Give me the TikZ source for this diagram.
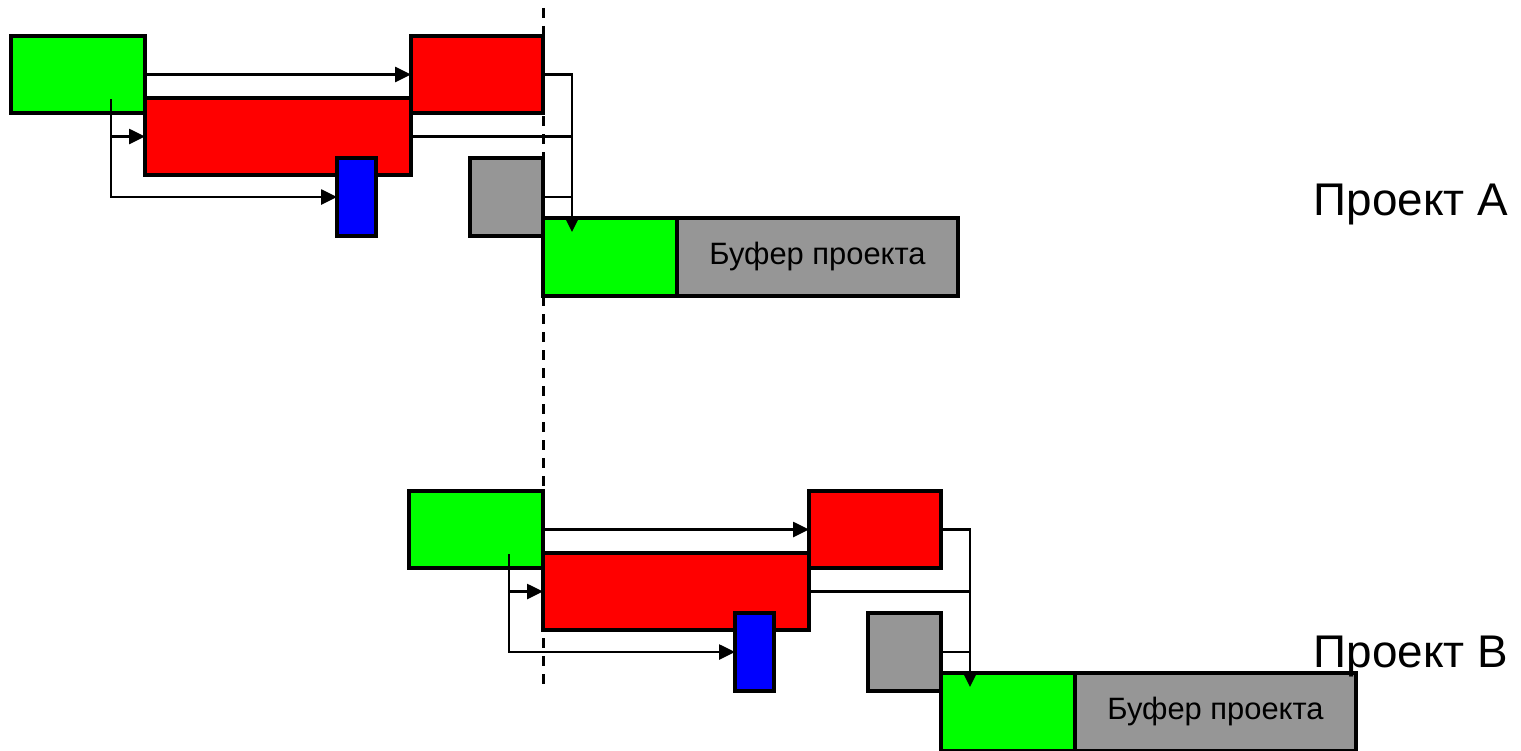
\documentclass[tikz,border=0pt]{standalone}
\usepackage{fontspec}
\setmainfont{Liberation Sans}
\usetikzlibrary{arrows.meta,calc}

\definecolor{tgreen}{RGB}{0,255,0}
\definecolor{tred}{RGB}{255,0,0}
\definecolor{tblue}{RGB}{0,0,255}
\definecolor{tgray}{RGB}{150,150,150}

\tikzset{
  task/.style={draw=black, line width=3.2bp, inner sep=0pt, outer sep=0pt,
               anchor=north west},
  link/.style={line width=2.6bp, draw=black},
  arr/.style={link, -{Triangle[length=16bp,width=15bp]}},
  cutline/.style={line width=3bp, dash pattern=on 10bp off 8bp},
  title/.style={font=\fontsize{46}{50}\selectfont, anchor=base, inner sep=0pt},
  buftext/.style={font=\fontsize{31}{35}\selectfont}
}

% One project network: #1 = name prefix, #2 = shift
\newcommand{\projectnet}[2]{%
  \begin{scope}[shift={#2}]
    \node[task, fill=tgreen, minimum width=134bp, minimum height=77bp] (#1g1) at (11,36) {};
    \node[task, fill=tred,   minimum width=132bp, minimum height=77bp] (#1r1) at (411,36) {};
    \node[task, fill=tred,   minimum width=266bp, minimum height=77bp] (#1r2) at (145,98) {};
    \node[task, fill=tblue,  minimum width=39bp,  minimum height=78bp] (#1bl) at (337,158) {};
    \node[task, fill=tgray,  minimum width=73bp,  minimum height=78bp] (#1gr) at (470,158) {};
    \node[task, fill=tgreen, minimum width=134bp, minimum height=78bp] (#1g2) at (543,218) {};
    \node[task, fill=tgray,  minimum width=281bp, minimum height=78bp, buftext] (#1buf) at (677,218) {};
    \node[buftext] at (#1buf.center) {Буфер проекта};
    % fork out of the first task
    \coordinate (#1fork) at (111,99);
    \draw[arr] (#1g1.east) -- (#1r1.west);
    \draw[arr] (#1fork) |- (#1bl.west);
    \draw[arr] (#1fork |- #1r2.west) -- (#1r2.west);
    % merge into the last task
    \coordinate (#1tip) at (572,232);
    \draw[arr] (#1r1.east) -| (#1tip);
    \draw[link] (#1r2.east) -- (#1r2.east -| #1tip);
    \draw[link] (#1gr.east) -- (#1gr.east -| #1tip);
  \end{scope}%
}

\begin{document}
\begin{tikzpicture}[x=1bp, y=-1bp]
  \useasboundingbox (0,0) rectangle (1521,751);

  \projectnet{a}{(0,0)}
  \projectnet{b}{(398,455)}

  % common time cut
  \coordinate (cuttop) at (543,8);
  \coordinate (cutbot) at (543,688);
  \draw[cutline] (cuttop) -- (cutbot);

  % project labels
  \node[title] (ta) at (1411,215) {Проект A};
  \node[title] (tb) at (1411,667) {Проект B};
\end{tikzpicture}
\end{document}
